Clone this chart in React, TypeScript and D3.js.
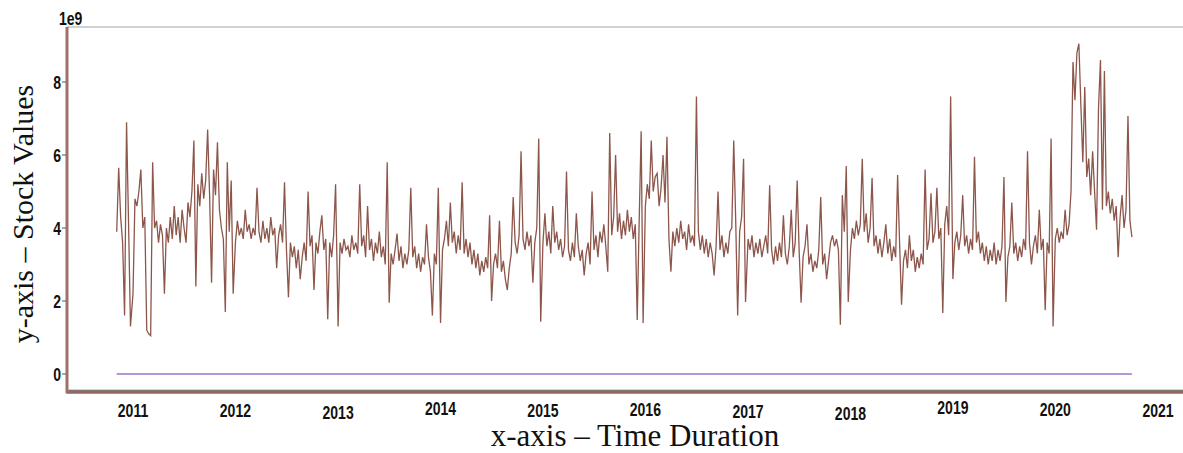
import React, { useEffect, useRef } from 'react';
import * as d3 from 'd3';

// weekly volume readings, in units of 1e9
const vol2010 = [3.9, 5.65, 4.3, 3.6, 1.6, 6.9, 4.2, 1.3];
const vol2011 = [
  2.2, 4.8, 4.6, 5.0, 5.6, 4.0, 4.3, 1.2, 1.1, 1.05, 5.8, 4.0, 4.2, 3.6, 4.1, 3.8, 2.2, 4.0, 3.6, 4.3,
  3.7, 4.6, 3.8, 4.3, 3.6, 4.5, 4.0, 3.6, 4.7, 4.3, 5.0, 6.4, 2.4, 5.2, 4.6, 5.5, 4.8, 5.3, 6.7, 4.9,
  2.5, 5.6, 4.9, 6.35, 4.5, 4.0, 3.7, 1.7, 5.8, 3.9, 5.3, 2.2,
];
const vol2012 = [
  3.6, 4.2, 3.8, 4.0, 3.7, 4.5, 3.9, 4.1, 3.7, 4.0, 3.8, 5.1, 3.9, 3.6, 4.2, 3.7, 4.0, 3.6, 4.3, 3.8,
  4.0, 2.9, 3.8, 4.1, 3.6, 5.25, 3.4, 2.1, 3.6, 3.2, 3.5, 2.9, 3.4, 2.6, 3.2, 3.6, 3.1, 5.0, 3.5, 3.8,
  2.3, 3.6, 3.3, 3.9, 4.35, 3.4, 3.7, 1.5, 3.6, 3.2, 3.8, 5.2,
];
const vol2013 = [
  1.3, 3.6, 3.3, 3.7, 3.4, 3.5, 3.2, 3.8, 3.4, 3.6, 3.3, 5.2, 3.5, 3.8, 3.2, 4.6, 3.4, 3.7, 3.1, 3.6,
  3.3, 3.9, 3.2, 3.5, 3.0, 5.8, 1.95, 3.3, 3.0, 3.4, 3.85, 3.1, 3.5, 2.9, 3.3, 3.0, 3.4, 5.1, 3.2, 3.5,
  2.9, 3.3, 2.8, 3.2, 3.0, 4.1, 3.2, 2.8, 1.6, 3.3, 3.0, 5.1,
];
const vol2014 = [
  1.4, 3.4, 3.7, 4.2, 3.5, 4.7, 3.6, 3.9, 3.3, 3.8, 3.4, 5.25, 3.3, 3.7, 3.2, 3.6, 3.0, 3.4, 2.9, 3.3,
  2.7, 3.1, 2.8, 3.2, 2.9, 4.35, 2.0, 3.0, 3.3, 2.9, 4.2, 2.8, 3.1, 2.6, 2.3, 2.9, 3.3, 4.85, 3.6, 3.3,
  3.8, 6.1, 3.7, 3.4, 3.9, 3.5, 3.8, 2.5, 3.6, 4.0, 6.45, 1.43,
];
const vol2015 = [
  3.6, 4.4, 3.5, 3.9, 3.3, 4.6, 3.6, 3.9, 3.4, 3.7, 3.2, 3.5, 5.55, 3.4, 3.1, 3.6, 3.2, 4.4, 3.5, 3.1,
  3.4, 2.7, 3.3, 3.6, 3.0, 5.0, 3.4, 3.8, 3.2, 3.9, 3.6, 4.1, 3.5, 2.8, 6.6, 3.8, 4.3, 6.0, 3.9, 4.4,
  3.7, 4.2, 3.8, 4.5, 3.9, 4.3, 3.7, 4.1, 1.48, 4.2, 6.65, 1.4,
];
const vol2016 = [
  4.6, 5.2, 4.8, 6.4, 5.0, 5.4, 5.5, 4.6, 5.1, 6.0, 4.7, 6.5, 3.7, 2.8, 3.9, 3.5, 4.0, 3.6, 4.2, 3.7,
  3.9, 3.4, 4.1, 3.6, 3.8, 3.5, 7.6, 3.9, 3.4, 3.8, 3.3, 3.7, 3.2, 3.6, 3.3, 2.7, 3.5, 5.0, 3.4, 3.8,
  3.2, 3.6, 3.3, 3.9, 4.0, 6.4, 4.2, 1.6, 3.9, 4.3, 5.9, 1.97,
];
const vol2017 = [
  3.7, 3.4, 3.8, 3.2, 3.6, 3.3, 3.7, 3.2, 3.5, 3.8, 3.3, 5.17, 3.4, 3.0, 3.5, 3.1, 3.6, 3.2, 4.35, 3.3,
  3.0, 3.5, 4.5, 3.2, 3.6, 5.3, 3.4, 1.95, 3.2, 3.5, 4.1, 3.0, 3.3, 2.8, 3.1, 2.9, 3.4, 4.85, 3.0, 3.3,
  2.6, 3.1, 3.6, 3.8, 3.5, 3.7, 3.4, 1.35, 4.9, 3.9, 5.7, 1.97,
];
const vol2018 = [
  3.4, 4.0, 3.7, 4.2, 3.8, 4.1, 5.9, 3.9, 4.4, 3.6, 4.0, 5.37, 3.5, 3.8, 3.3, 3.7, 3.2, 3.6, 4.1, 3.3,
  3.7, 3.1, 3.5, 3.2, 5.45, 3.6, 1.9, 3.1, 3.4, 2.9, 3.8, 3.1, 3.4, 2.8, 3.2, 2.9, 3.3, 3.0, 5.6, 3.4,
  3.7, 4.95, 3.6, 3.9, 5.1, 3.7, 4.0, 1.67, 4.1, 4.6, 3.8, 7.6,
];
const vol2019 = [
  2.6, 3.6, 3.9, 3.4, 3.8, 4.9, 3.5, 3.8, 3.3, 3.7, 3.4, 5.95, 3.6, 3.9, 3.3, 3.6, 3.1, 3.5, 3.0, 3.4,
  3.1, 3.6, 3.0, 3.4, 3.1, 3.5, 5.4, 1.97, 3.2, 3.5, 4.7, 3.3, 3.6, 3.1, 3.5, 3.2, 3.7, 3.4, 6.1, 3.6,
  3.0, 3.5, 3.8, 3.3, 4.5, 3.4, 3.7, 1.75, 3.6, 3.3, 6.45, 1.3,
];
const vol2020 = [
  3.7, 4.0, 3.6, 3.9, 3.7, 4.5, 3.8, 4.1, 5.0, 8.55, 7.5, 8.8, 9.05, 7.4, 5.8, 7.86, 5.4, 5.9, 4.9, 6.1,
  5.0, 3.95, 7.3, 8.6, 4.5, 8.3, 4.6, 5.0, 4.4, 4.8, 4.2, 4.6, 3.2, 4.3, 4.9, 4.0, 4.5, 7.07, 4.2, 3.75,
];

const yearBlocks: [number, number[]][] = [
  [2010, vol2010], [2011, vol2011], [2012, vol2012], [2013, vol2013], [2014, vol2014],
  [2015, vol2015], [2016, vol2016], [2017, vol2017], [2018, vol2018], [2019, vol2019], [2020, vol2020],
];

const yTicks = [0, 2, 4, 6, 8];
const xTickYears = [2011, 2012, 2013, 2014, 2015, 2016, 2017, 2018, 2019, 2020, 2021];
// the year labels sit a little up or down in the original
const xTickDy = [0, -0.5, 2, -2, 0, -1, 1, 3, -3, -1, 0];

const W = 1183;
const H = 453;

const App = () => {
  const ref = useRef<SVGSVGElement>(null);

  useEffect(() => {
    const svg = d3.select(ref.current);
    svg.selectAll('*').remove();

    const points: { date: Date; value: number }[] = [];
    yearBlocks.forEach(([yr, vals]) => {
      const base = yr === 2010 ? new Date(2010, 10, 4) : new Date(yr, 0, 1);
      vals.forEach((v, i) => points.push({ date: d3.timeDay.offset(base, i * 7), value: v }));
    });

    const x = d3
      .scaleTime()
      .domain([new Date(2011, 0, 1), new Date(2021, 0, 1)])
      .range([133, 1158]);
    const y = d3.scaleLinear().domain([0, 8]).range([374, 82]);

    const left = 67;
    const top = 27;
    const bottom = 392;

    // frame
    svg.append('line')
      .attr('x1', left).attr('x2', W).attr('y1', top).attr('y2', top)
      .attr('stroke', '#a3a3a3').attr('stroke-width', 1.2);
    svg.append('line')
      .attr('x1', left).attr('x2', W).attr('y1', bottom).attr('y2', bottom)
      .attr('stroke', '#94665d').attr('stroke-width', 3.5);
    svg.append('line')
      .attr('x1', left).attr('x2', W).attr('y1', bottom - 1.8).attr('y2', bottom - 1.8)
      .attr('stroke', '#6f6f6f').attr('stroke-width', 1);
    svg.append('line')
      .attr('x1', left).attr('x2', left).attr('y1', top).attr('y2', bottom + 1.5)
      .attr('stroke', '#a0706a').attr('stroke-width', 3);

    // narrow bold labels: Liberation Sans squeezed horizontally
    const tickFont = "'Liberation Sans', Arial, sans-serif";
    const narrowText = (g: any, tx: number, ty: number, anchor: string, label: string) =>
      g.append('text')
        .attr('transform', `translate(${tx},${ty}) scale(0.78,1)`)
        .attr('text-anchor', anchor)
        .attr('font-family', tickFont).attr('font-weight', 'bold').attr('font-size', 18)
        .attr('fill', '#111')
        .text(label);

    // y axis
    const yg = svg.append('g');
    yTicks.forEach((t) => {
      yg.append('line')
        .attr('x1', left - 5).attr('x2', left - 1).attr('y1', y(t)).attr('y2', y(t))
        .attr('stroke', '#555').attr('stroke-width', 1);
      narrowText(yg, left - 6, y(t) + 6.5, 'end', d3.format('d')(t));
    });
    narrowText(svg, 59, 25, 'start', '1e9');

    // x axis labels
    xTickYears.forEach((yr, i) => {
      narrowText(svg, x(new Date(yr, 0, 1)), 417 + xTickDy[i], 'middle', String(yr));
    });

    // series
    const line = d3
      .line<{ date: Date; value: number }>()
      .x((d) => x(d.date))
      .y((d) => y(d.value));

    svg.append('path')
      .datum(points.map((p) => ({ date: p.date, value: 0 })))
      .attr('d', line)
      .attr('fill', 'none')
      .attr('stroke', '#9a72c8')
      .attr('stroke-width', 1.5);

    svg.append('path')
      .datum(points)
      .attr('d', line)
      .attr('fill', 'none')
      .attr('stroke', '#8c564b')
      .attr('stroke-width', 1.3);

    // titles
    const titleFont = "'Liberation Serif', 'Times New Roman', serif";
    svg.append('text')
      .attr('x', 635).attr('y', 446)
      .attr('text-anchor', 'middle')
      .attr('font-family', titleFont).attr('font-size', 31)
      .attr('fill', '#111')
      .text('x-axis – Time Duration');
    svg.append('text')
      .attr('transform', 'translate(33,214) rotate(-90)')
      .attr('text-anchor', 'middle')
      .attr('font-family', titleFont).attr('font-size', 30)
      .attr('fill', '#111')
      .text('y-axis – Stock Values');
  }, []);

  return (
    <svg
      ref={ref}
      width={W}
      height={H}
      style={{ position: 'absolute', left: 0, top: 0, background: '#fff' }}
    />
  );
};

export default App;
